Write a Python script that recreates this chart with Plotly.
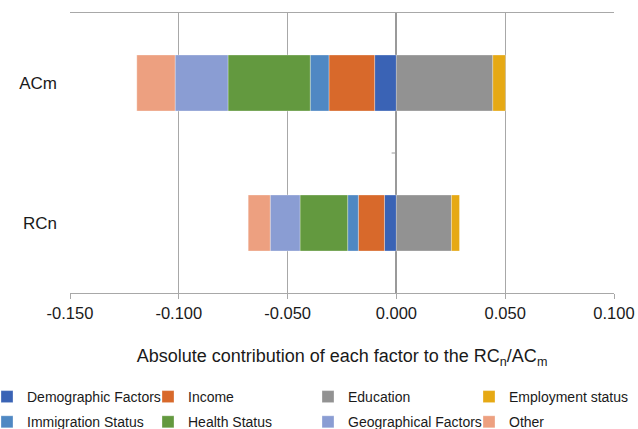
import plotly.graph_objects as go

categories = ["ACm", "RCn"]
series_names = ["Demographic Factors", "Income", "Education", "Employment status",
                "Immigration Status", "Health Status", "Geographical Factors", "Other"]
demographic = [-0.0100, -0.0055]
income = [-0.0210, -0.0120]
education = [0.0443, 0.0253]
employment = [0.0058, 0.0037]
immigration = [-0.0086, -0.0049]
health = [-0.0378, -0.0219]
geographical = [-0.0243, -0.0137]
other = [-0.0176, -0.0101]
x_ticks = [-0.15, -0.10, -0.05, 0.0, 0.05, 0.10]
x_tick_labels = ["-0.150", "-0.100", "-0.050", "0.000", "0.050", "0.100"]

series_values = [demographic, income, education, employment,
                 immigration, health, geographical, other]
colors = ["#3a63b5", "#d8692b", "#929292", "#e6a914",
          "#4f88c3", "#63993f", "#8a9dd3", "#eda080"]
legend_ids = ["legend", "legend2", "legend3", "legend4",
              "legend", "legend2", "legend3", "legend4"]

FONT = "Liberation Sans, Arial, sans-serif"
TXT = "#1a1a1a"

fig = go.Figure()
for name, vals, col, lg in zip(series_names, series_values, colors, legend_ids):
    fig.add_trace(go.Bar(
        y=categories, x=vals, name=name, orientation="h",
        marker=dict(color=col, line=dict(color="rgba(255,255,255,0.6)", width=0.5)),
        legend=lg, legendgroup=name,
    ))

L, R, T, B = 70, 24, 13, 136
W, H = 638, 429
PW, PH = W - L - R, H - T - B

def leg(text_left_px, top_px=381):
    return dict(xref="paper", yref="paper",
                x=(text_left_px - 40 - L) / PW, xanchor="left",
                y=(H - B - top_px) / PH, yanchor="top",
                orientation="v", traceorder="grouped", tracegroupgap=4,
                font=dict(family=FONT, size=14, color=TXT),
                bgcolor="rgba(0,0,0,0)", itemwidth=30)

fig.update_layout(
    width=W, height=H,
    margin=dict(l=L, r=R, t=T, b=B, autoexpand=False),
    barmode="relative", bargap=0.6,
    plot_bgcolor="white", paper_bgcolor="white",
    font=dict(family=FONT, size=16, color=TXT),
    legend=leg(27), legend2=leg(188), legend3=leg(348), legend4=leg(509),
    xaxis=dict(
        range=[-0.15, 0.10], tickvals=x_ticks, ticktext=x_tick_labels,
        showgrid=True, gridcolor="#a8a8a8", gridwidth=1,
        zeroline=True, zerolinecolor="#9a9a9a", zerolinewidth=1.5,
        showline=True, linecolor="#a8a8a8", linewidth=1, mirror=True,
        ticks="outside", ticklen=5, tickcolor="#a8a8a8",
        tickfont=dict(family=FONT, size=16.5, color=TXT),
        title=dict(text="Absolute contribution of each factor to the RC<sub>n</sub>/AC<sub>m</sub>",
                   font=dict(family=FONT, size=18, color=TXT), standoff=28),
        automargin=False, fixedrange=True,
    ),
    yaxis=dict(
        autorange="reversed", showgrid=False, zeroline=False, showline=False,
        ticks="", ticklabelstandoff=12,
        tickfont=dict(family=FONT, size=17, color=TXT),
        automargin=False, fixedrange=True,
    ),
    shapes=[dict(type="line", xref="x", yref="y", x0=-0.0022, x1=0, y0=0.5, y1=0.5,
                 line=dict(color="#9a9a9a", width=1))],
)

fig.write_html("out.html")
